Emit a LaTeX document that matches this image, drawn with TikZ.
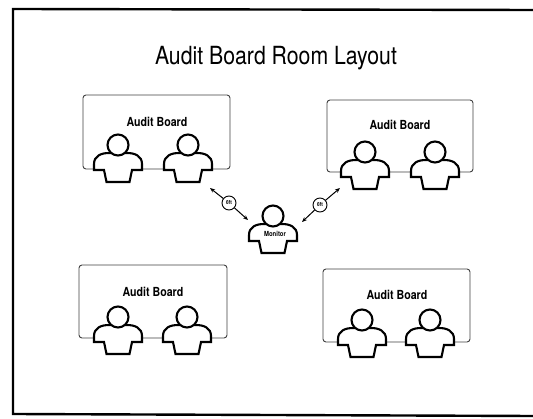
\documentclass[tikz,border=0pt]{standalone}
\usepackage{fontspec}
\setmainfont{TeX Gyre Heros}
\newfontfamily\cond[FakeStretch=0.85]{TeX Gyre Heros}
\usetikzlibrary{arrows.meta}
\tikzset{
  board/.style={draw=black!75, line width=0.9pt, rounded corners=3pt, fill=white},
  boardlabel/.style={font=\cond\bfseries\fontsize{12.5}{14}\selectfont, anchor=base, inner sep=0pt},
  dist/.style={circle, draw, line width=0.9pt, fill=white, minimum size=14pt, inner sep=0pt, font=\cond\bfseries\fontsize{5.5}{6}\selectfont},
  conn/.style={line width=1pt, -{Stealth[length=5pt,width=4pt]}},
  person/.pic={
    \draw[line width=2.1pt, fill=white, line join=miter]
      (-24,25) -- (-24,19) .. controls (-24,11) and (-17,8) .. (-9,8) -- (9,8)
      .. controls (17,8) and (24,11) .. (24,19) -- (24,25) -- (14,25) -- (11.5,37)
      -- (-11.5,37) -- (-14,25) -- cycle;
    \draw[line width=2.1pt, fill=white] (0,0) circle (10.5);
  }
}
\begin{document}
\begin{tikzpicture}[x=1pt,y=-1pt]
\useasboundingbox (0,0) rectangle (533,419);
% frame
\draw[line width=2.4pt] (533,10) -- (13,9) -- (13,414) -- (533,416);
% title
\node[font=\cond\fontsize{25}{28}\selectfont, anchor=base, inner sep=0pt] (title) at (276,65) {Audit Board Room Layout};
% boards
\node[board, minimum width=147pt, minimum height=74pt] (b1) at (156.5,132) {};
\node[board, minimum width=146pt, minimum height=72pt] (b2) at (400,136) {};
\node[board, minimum width=148pt, minimum height=73pt] (b3) at (153,301.5) {};
\node[board, minimum width=147pt, minimum height=73pt] (b4) at (396.5,305.5) {};
\node[boardlabel] (l1) at (157,127) {Audit Board};
\node[boardlabel] (l2) at (400,130) {Audit Board};
\node[boardlabel] (l3) at (153,297) {Audit Board};
\node[boardlabel] (l4) at (397,300) {Audit Board};
% people
\pic at (118,145) {person};
\pic at (188,145) {person};
\pic at (365,152) {person};
\pic at (435,152) {person};
\pic at (118,317) {person};
\pic at (187,317) {person};
\pic at (362,320) {person};
\pic at (430,320) {person};
% monitor
\pic at (273,216) {person};
\node[font=\cond\bfseries\fontsize{7}{8}\selectfont, inner sep=0pt] (mon) at (275,234) {Monitor};
% distances
\coordinate (a1) at (210,188);
\coordinate (a2) at (248,220);
\coordinate (a3) at (302,222);
\coordinate (a4) at (340,188);
\node[dist] (d1) at (229,203) {6ft};
\node[dist] (d2) at (320,205) {6ft};
\draw[conn] (d1) -- (a1);
\draw[conn] (d1) -- (a2);
\draw[conn] (d2) -- (a3);
\draw[conn] (d2) -- (a4);
\end{tikzpicture}
\end{document}
